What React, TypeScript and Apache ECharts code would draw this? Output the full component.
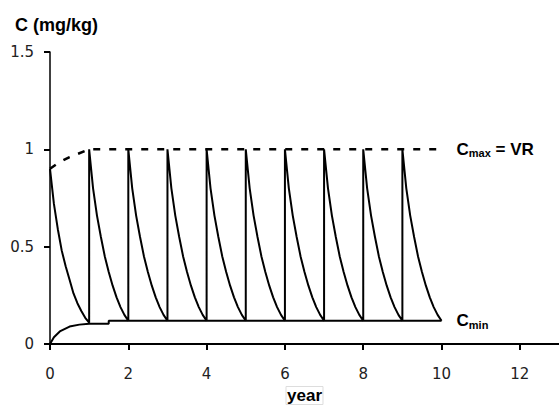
import React, { useEffect, useRef } from "react";
import * as echarts from "echarts";

// Times within one year (fraction of year after a dose)
const cycleTimes = [0, 0.1, 0.2, 0.3, 0.4, 0.5, 0.6, 0.7, 0.8, 0.9, 1.0];
// First dose (year 0) decay curve
const firstCycle = [0.9, 0.72, 0.59, 0.48, 0.4, 0.33, 0.26, 0.21, 0.17, 0.135, 0.11];
// Subsequent doses decay curve
const laterCycle = [1.0, 0.8, 0.66, 0.55, 0.45, 0.37, 0.3, 0.24, 0.19, 0.15, 0.12];
// Years at which a later dose is given
const doseYears = [1, 2, 3, 4, 5, 6, 7, 8, 9];

// Cmax envelope (dashed)
const cmaxYears = [0, 0.25, 0.5, 0.75, 1, 10];
const cmaxValues = [0.9, 0.935, 0.96, 0.98, 1.0, 1.0];

// Cmin envelope (solid)
const cminYears = [0, 0.1, 0.25, 0.5, 0.75, 1, 1.5, 1.5, 10];
const cminValues = [0, 0.035, 0.065, 0.09, 0.1, 0.105, 0.105, 0.12, 0.12];

const xTicks = { min: 0, max: 13, interval: 2 };
const yTicks = { min: 0, max: 1.5, interval: 0.5 };

export default function App() {
  const ref = useRef<HTMLDivElement>(null);
  useEffect(() => {
    if (!ref.current) return;
    const chart = echarts.init(ref.current, undefined, { renderer: "svg" });

    const saw: number[][] = [];
    cycleTimes.forEach((t, i) => saw.push([t, firstCycle[i]]));
    doseYears.forEach((d) => {
      cycleTimes.forEach((t, i) => saw.push([d + t, laterCycle[i]]));
    });

    const cmax = cmaxYears.map((x, i) => [x, cmaxValues[i]]);
    const cmin = cminYears.map((x, i) => [x, cminValues[i]]);

    const font = "Liberation Sans, Arial, sans-serif";
    const labelRich = {
      a: { fontSize: 17, fontWeight: "bold", fontFamily: font, color: "#000" },
      b: {
        fontSize: 11,
        fontWeight: "bold",
        fontFamily: font,
        color: "#000",
        verticalAlign: "bottom",
        padding: [8, 0, 0, 0],
      },
    };

    chart.setOption({
      animation: false,
      backgroundColor: "#fff",
      grid: { left: 50, top: 52, width: 511, height: 301 },
      graphic: [
        {
          type: "text",
          left: 15,
          top: 16,
          style: {
            text: "C (mg/kg)",
            font: "bold 18px Liberation Sans, Arial, sans-serif",
            fill: "#000",
          },
        },
      ],
      xAxis: {
        type: "value",
        ...xTicks,
        name: "year",
        nameLocation: "middle",
        nameGap: 36,
        nameTextStyle: {
          fontSize: 17,
          fontWeight: "bold",
          fontFamily: font,
          color: "#000",
          borderColor: "#ddd",
          borderWidth: 1,
          padding: [0, 1, 1, 1],
        },
        splitLine: { show: false },
        axisLine: { lineStyle: { color: "#000", width: 2 } },
        axisTick: { length: 6, lineStyle: { color: "#000", width: 2 } },
        axisLabel: {
          showMaxLabel: false,
          margin: 22,
          fontSize: 15,
          fontFamily: "DejaVu Sans, sans-serif",
          color: "#222",
        },
      },
      yAxis: {
        type: "value",
        ...yTicks,
        splitLine: { show: false },
        axisLine: { show: true, lineStyle: { color: "#000", width: 1.5 } },
        axisTick: { show: true, length: 6, lineStyle: { color: "#000", width: 2 } },
        axisLabel: {
          margin: 16,
          fontSize: 15,
          fontFamily: "DejaVu Sans, sans-serif",
          color: "#222",
        },
      },
      series: [
        {
          type: "line",
          data: saw,
          showSymbol: false,
          symbol: "none",
          lineStyle: { color: "#000", width: 2 },
        },
        {
          type: "line",
          data: cmin,
          showSymbol: false,
          symbol: "none",
          lineStyle: { color: "#000", width: 2 },
          endLabel: {
            show: true,
            distance: 15,
            formatter: "{a|C}{b|min}",
            rich: labelRich,
          },
        },
        {
          type: "line",
          data: cmax,
          showSymbol: false,
          symbol: "none",
          lineStyle: { color: "#000", width: 2.5, type: [7, 9] },
          endLabel: {
            show: true,
            distance: 15,
            formatter: "{a|C}{b|max}{a| = VR}",
            rich: labelRich,
          },
        },
      ],
    });
    return () => chart.dispose();
  }, []);
  return (
    <div
      ref={ref}
      style={{ position: "fixed", left: 0, top: 0, width: 559, height: 410 }}
    />
  );
}
